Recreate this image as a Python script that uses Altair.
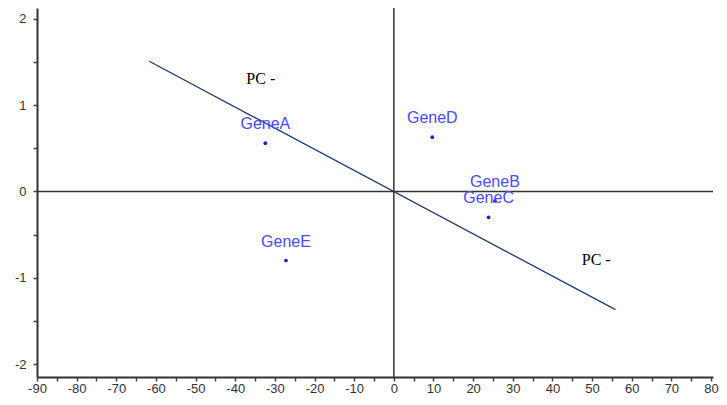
import altair as alt
import pandas as pd

genes = ["GeneA", "GeneB", "GeneC", "GeneD", "GeneE"]
pc1 = [-32.4, 25.5, 23.9, 9.7, -27.2]
pc2 = [0.56, -0.11, -0.30, 0.63, -0.80]

line_x = [-61.7, 55.9]
line_y = [1.51, -1.37]

pc_labels = ["PC -", "PC -"]
pc_label_x = [-37.2, 47.4]
pc_label_y = [1.30, -0.79]

x_ticks = list(range(-90, 85, 5))
y_ticks = [-2, -1.5, -1, -0.5, 0, 0.5, 1, 1.5, 2]

X_DOM = [-90, 80.5]
Y_DOM = [-2.1507, 2.1275]
W, H = 676, 369

df = pd.DataFrame({"gene": genes, "x": pc1, "y": pc2})
line_df = pd.DataFrame({"x": line_x, "y": line_y})
pc_df = pd.DataFrame({"t": pc_labels, "x": pc_label_x, "y": pc_label_y})

xs = alt.Scale(domain=X_DOM, nice=False, zero=False)
ys = alt.Scale(domain=Y_DOM, nice=False, zero=False)

AX_FONT = "Liberation Sans"

x_axis = alt.Axis(values=x_ticks, tickCount=200,
                  labelExpr="datum.value % 10 == 0 ? toString(datum.value) : ''",
                  title=None, grid=False, domainColor="#333", domainWidth=2,
                  tickColor="#444", tickSize=4, tickWidth=1.5, labelColor="#333",
                  labelFontSize=13, labelFont=AX_FONT, labelPadding=1,
                  labelFlush=False, labelOverlap=False)
y_axis = alt.Axis(values=y_ticks, tickCount=200,
                  labelExpr="datum.value % 1 == 0 ? toString(datum.value) : ''",
                  title=None, grid=False, domainColor="#333", domainWidth=2,
                  tickColor="#444", tickSize=4, tickWidth=1.5, labelColor="#333",
                  labelFontSize=13, labelFont=AX_FONT, labelPadding=7,
                  labelFlush=False, labelOverlap=False)

base_axes = alt.Chart(df).mark_point(opacity=0).encode(
    x=alt.X("x:Q", scale=xs, axis=x_axis),
    y=alt.Y("y:Q", scale=ys, axis=y_axis),
)

vrule = alt.Chart(pd.DataFrame({"v": [0]})).mark_rule(color="#333", strokeWidth=1.5).encode(
    x=alt.X("v:Q", scale=xs)
)
hrule = alt.Chart(pd.DataFrame({"v": [0]})).mark_rule(color="#333", strokeWidth=1.5).encode(
    y=alt.Y("v:Q", scale=ys)
)

pc_line = alt.Chart(line_df).mark_line(color="#1f3a6a", strokeWidth=1.3).encode(
    x=alt.X("x:Q", scale=xs), y=alt.Y("y:Q", scale=ys)
)

dots = alt.Chart(df).mark_circle(color="#1a1aff", size=14, opacity=1).encode(
    x=alt.X("x:Q", scale=xs), y=alt.Y("y:Q", scale=ys)
)
labels = alt.Chart(df).mark_text(color="#4a4aff", fontSize=16, font="Liberation Sans",
                                 dy=-19, baseline="middle", align="center").encode(
    x=alt.X("x:Q", scale=xs), y=alt.Y("y:Q", scale=ys), text="gene:N"
)

pc_text = alt.Chart(pc_df).mark_text(color="#000", fontSize=16, font="Liberation Serif",
                                     align="left", baseline="middle").encode(
    x=alt.X("x:Q", scale=xs), y=alt.Y("y:Q", scale=ys), text="t:N"
)

chart = alt.layer(base_axes, vrule, hrule, pc_line, dots, labels, pc_text).properties(
    width=W, height=H,
    autosize=alt.AutoSizeParams(type="none"),
    padding={"left": 29, "top": 0, "right": 6, "bottom": 22},
).configure_view(stroke=None)

chart.save("out.html", embed_options={"renderer": "svg", "actions": False})
